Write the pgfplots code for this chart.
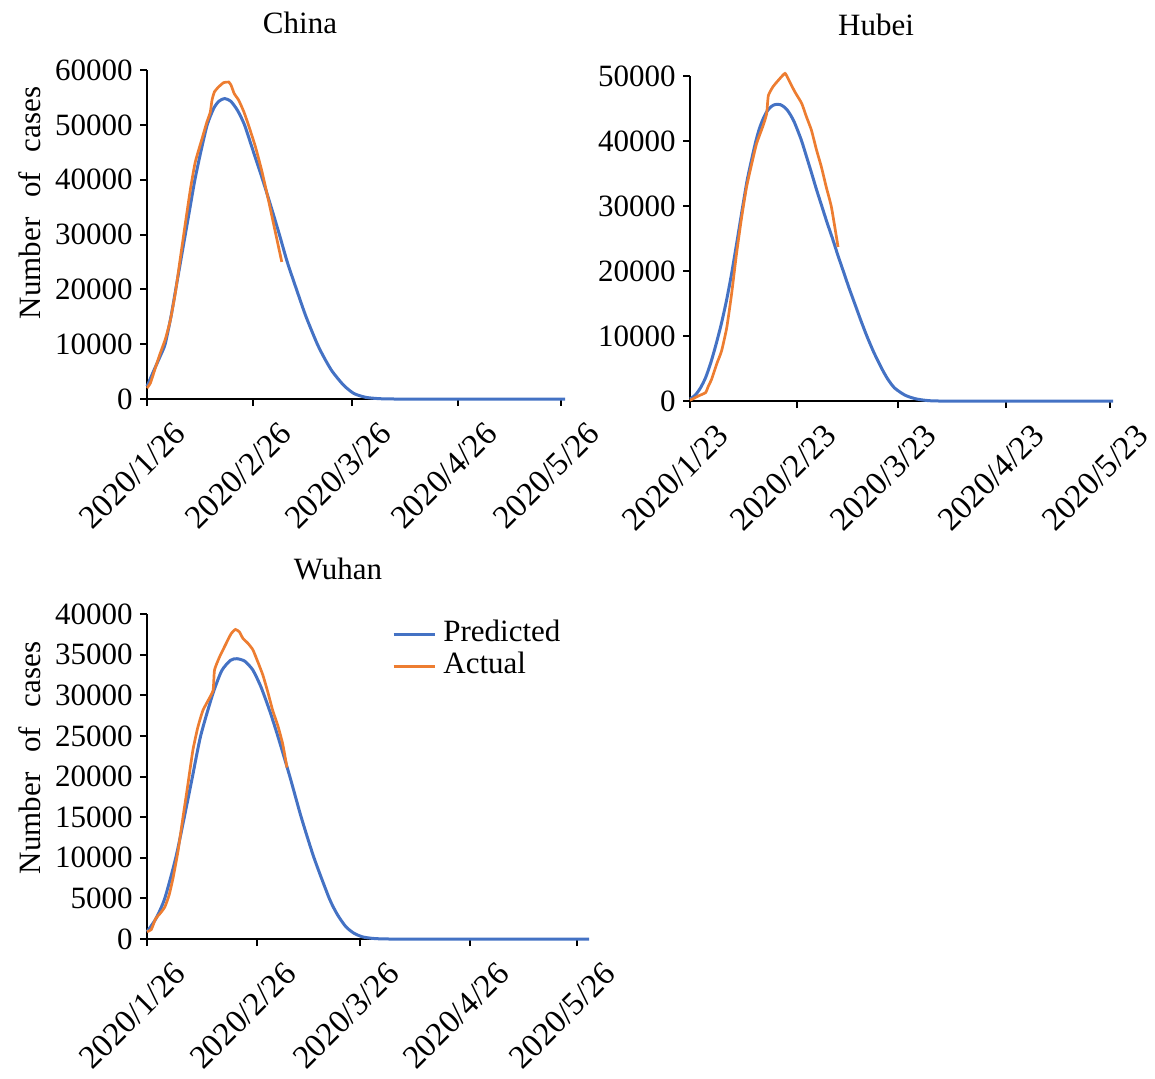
\documentclass[border=0pt]{standalone}
\usepackage{fontspec}
\setmainfont{Liberation Serif}
\usepackage{pgfplots}
\pgfplotsset{compat=1.18}
\definecolor{pblue}{RGB}{68,114,196}
\definecolor{porange}{RGB}{237,125,49}
\newcommand{\fs}{\fontsize{15.5}{18}\selectfont}
\newcommand{\fx}{\fontsize{16.5}{19}\selectfont}
\pgfplotsset{
  panel/.style={
    scale only axis,
    axis x line=bottom, axis y line=left,
    axis line style={-, line width=1pt, black},
    tick align=outside, major tick length=3.5pt,
    every tick/.style={line width=1pt, black},
    xmin=0, ymin=0, clip=false,
    xtick={0,31,60,91,121},
    scaled y ticks=false,
    /pgf/number format/1000 sep={},
    /pgf/number format/assume math mode=true,
    tick label style={font=\fs},
    x tick label style={font=\fx, xshift=12.5pt, yshift=-7pt, rotate=45, anchor=north east, inner sep=0pt},
    y tick label style={anchor=east, inner sep=0pt},
    yticklabel shift=3.5pt,
  },
  pred/.style={color=pblue, line width=1.5pt, smooth, tension=0.4},
  act/.style={color=porange, line width=1.35pt, smooth, tension=0.3},
}
\begin{document}
\begin{tikzpicture}
\path[use as bounding box] (0,0) rectangle (577.5pt,-539pt);
% ---------- China ----------
\begin{axis}[panel, at={(73.5pt,-199.5pt)}, anchor=south west,
  width=209pt, height=164.5pt, xmax=122.2, ymax=60000,
  ytick={0,10000,...,60000},
  xticklabels={2020/1/26,2020/2/26,2020/3/26,2020/4/26,2020/5/26}]
\addplot[pred] coordinates {
(0,2300) (2,5200) (4,8000) (5.3,10000) (7,15000) (8.4,20000) (9.8,25000)
(11.2,30000) (12.6,35000) (14,40000) (15.7,45000) (17.6,50000) (19.5,53000)
(21,54300) (22.7,54800) (24.5,54300) (26.5,52600) (28.5,50000) (31,45300)
(33.8,40000) (36.3,35000) (38.7,30000) (41,25000) (43.7,20000) (46.5,15000)
(49.8,10000) (52,7300) (54.2,5000) (57.5,2500) (60.5,1000) (64,300) (68,60)
(73,0) (90,0) (110,0) (122.2,0)};
\addplot[act] coordinates {
(0,2000) (1,2900) (2.4,5600) (3.9,8400) (5.4,11000) (6.8,14300) (8.3,19400)
(9.7,25500) (11.2,32000) (12.7,38300) (14.1,43200) (16.1,47500) (17.5,50500)
(18.5,52300) (19,54500) (19.7,56000) (20.9,56900) (22.4,57700) (23.9,57800)
(24.6,57200) (25.5,55700) (26.8,54500) (28.3,52400) (29.7,49900) (31.7,46000)
(33.6,41500) (35.6,36000) (37.5,30500) (39.4,25000)};
\end{axis}
% ---------- Hubei ----------
\begin{axis}[panel, at={(345pt,-200.5pt)}, anchor=south west,
  width=211.5pt, height=162.5pt, xmax=122, ymax=50000,
  ytick={0,10000,...,50000},
  xticklabels={2020/1/23,2020/2/23,2020/3/23,2020/4/23,2020/5/23}]
\addplot[pred] coordinates {
(0,300) (1.5,900) (3,2000) (4.5,3600) (6,5900) (7.5,8700) (9,11800)
(10.5,15400) (12,19600) (13.6,24700) (15.1,29600) (16.5,34000) (18,37700)
(19,40000) (20,41900) (21,43300) (22,44400) (23,45100) (24,45500) (25,45650)
(26,45600) (27,45300) (28,44800) (29,44000) (30,43000) (31,41700) (32.2,40000)
(33.6,37600) (35.1,35000) (36.5,32500) (38,30000) (39.5,27500) (41.1,25000)
(42.6,22500) (44.2,20000) (45.8,17500) (47.5,15000) (49.2,12500) (51,10000)
(53,7500) (55.3,5000) (57,3400) (59,2000) (62,900) (65,350) (68,100) (72,0)
(90,0) (110,0) (122,0)};
\addplot[act] coordinates {
(0,100) (2.4,770) (4.5,1300) (5.3,2300) (6.2,3300) (7.7,5700) (9.1,7700)
(10.6,11300) (12,16500) (13.4,22600) (14.9,28300) (16.3,32900) (17.8,36500)
(19.2,39600) (21.1,42400) (22.1,44200) (22.6,47000) (24,48400) (25.9,49600)
(27.4,50400) (28.3,49600) (30.2,47600) (32.2,45800) (33.6,43700) (35,41700)
(36.5,38600) (37.9,36000) (39.3,32900) (40.8,29800) (42.7,23700)};
\end{axis}
% ---------- Wuhan ----------
\begin{axis}[panel, at={(73.5pt,-469.5pt)}, anchor=south west,
  width=221pt, height=162.5pt, xmax=124.4, ymax=40000,
  ytick={0,5000,...,40000},
  xticklabels={2020/1/26,2020/2/26,2020/3/26,2020/4/26,2020/5/26},
  legend style={at={(0.5536,0.888)}, anchor=west, draw=none, fill=none,
    inner sep=0pt, font=\fs, row sep=0pt, column sep=3.65pt,
    cells={anchor=west},
    nodes={inner sep=0pt, text height=11.3pt, text depth=4.7pt}},
  legend image code/.code={\draw[#1] (0pt,0pt) -- (20.5pt,0pt);}]
\addplot[pred] coordinates {
(0,900) (2.5,2500) (5,5000) (8.1,10000) (10.5,15000) (12.8,20000) (15.1,25000)
(18.4,30000) (21,33000) (23.5,34300) (25.3,34500) (27.5,34200) (29.8,33100)
(32.1,31000) (34.6,28000) (36.8,25000) (40.2,20000) (43.4,15000) (47,10000)
(51.3,5000) (53.6,3000) (56,1500) (58.3,700) (60.8,250) (64,60) (69,0)
(90,0) (110,0) (124.4,0)};
\addlegendentry{Predicted}
\addplot[act] coordinates {
(0,910) (1.2,1160) (2.4,2480) (3.6,3100) (5,3930) (6.2,5380) (7.3,7440)
(8.7,10750) (10.1,14900) (11.5,19000) (12.9,23200) (14.3,26050) (15.7,28100)
(17.2,29360) (18.6,30600) (19,33100) (20.4,34700) (22.3,36400) (23.7,37600)
(24.9,38100) (26,37800) (27,37000) (28.4,36400) (29.8,35600) (31.2,34100)
(32.6,32500) (34,30400) (35.4,28100) (36.8,26300) (38.2,24000) (39.4,21100)};
\addlegendentry{Actual}
\end{axis}
% ---------- titles and axis labels ----------
\node[font=\fs, anchor=base] at (150pt,-16.75pt) {China};
\node[font=\fs, anchor=base] at (438pt,-17.5pt) {Hubei};
\node[font=\fs, anchor=base] at (169pt,-289.5pt) {Wuhan};
\node[font=\fs, rotate=90] at (15pt,-101.5pt) {Number\hspace{6pt} of\hspace{6pt} cases};
\node[font=\fs, rotate=90] at (15pt,-379pt) {Number\hspace{6pt} of\hspace{6pt} cases};
\end{tikzpicture}
\end{document}
